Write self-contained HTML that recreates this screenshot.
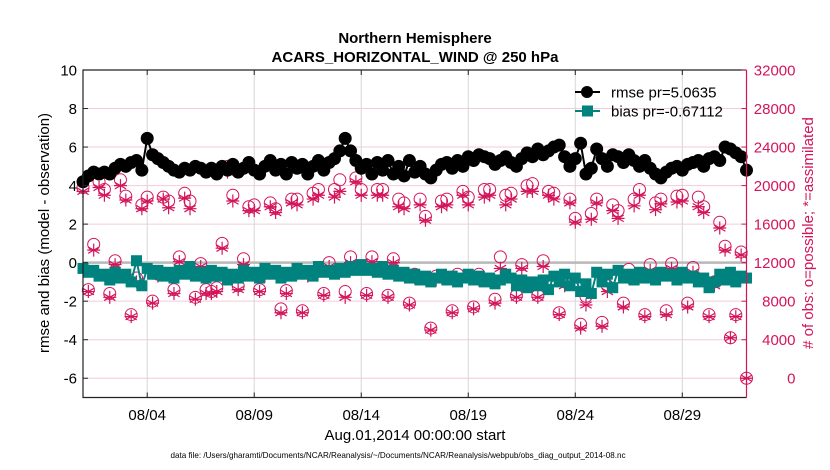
<!DOCTYPE html>
<html><head><meta charset="utf-8"><style>
html,body{margin:0;padding:0;background:#fff;}
svg{display:block;font-family:"Liberation Sans",Arial,sans-serif;}
</style></head><body>
<svg id="chart" width="830" height="470" viewBox="0 0 830 470">
<text x="415" y="43" text-anchor="middle" font-size="15" font-weight="bold">Northern Hemisphere</text>
<text x="415" y="62" text-anchor="middle" font-size="15" font-weight="bold">ACARS_HORIZONTAL_WIND @ 250 hPa</text>
<g id="grid"></g>
<g id="series"></g>
<g id="axes"></g>
<text transform="translate(49,233) rotate(-90)" text-anchor="middle" font-size="15">rmse and bias (model - observation)</text>
<text transform="translate(813,233) rotate(-90)" text-anchor="middle" font-size="15" fill="#d4145a"># of obs: o=possible; *=assimilated</text>
<text x="415" y="440" text-anchor="middle" font-size="15">Aug.01,2014 00:00:00 start</text>
<text x="398" y="458" text-anchor="middle" font-size="8.1">data file: /Users/gharamti/Documents/NCAR/Reanalysis/~/Documents/NCAR/Reanalysis/webpub/obs_diag_output_2014-08.nc</text>
<g>
<line x1="575" y1="92" x2="600" y2="92" stroke="#000" stroke-width="2"/>
<circle cx="587" cy="92" r="6" fill="#000"/>
<text x="611" y="97.5" font-size="15">rmse pr=5.0635</text>
<line x1="575" y1="111" x2="600" y2="111" stroke="#00837f" stroke-width="2"/>
<rect x="582" y="105.5" width="11" height="11" fill="#00837f"/>
<text x="611" y="116.5" font-size="15">bias pr=-0.67112</text>
</g>
</svg>
<script>
const xTickDays=[3,8,13,18,23,28];
const xTickLabels=["08/04","08/09","08/14","08/19","08/24","08/29"];
const leftTicks=[10,8,6,4,2,0,-2,-4,-6];
const rightTicks=[32000,28000,24000,20000,16000,12000,8000,4000,0];
const rmse=[4.2,4.5,4.7,4.6,4.7,4.6,4.9,5.1,5.0,5.2,5.3,4.8,
6.45,5.6,5.4,5.2,5.0,4.8,4.7,4.9,4.8,5.0,4.9,4.7,4.9,4.6,5.0,4.8,5.1,4.7,4.9,5.2,4.8,4.6,5.0,5.3,4.8,5.1,4.6,5.2,4.9,5.1,4.6,5.0,5.3,4.8,5.2,5.4,5.8,6.45,5.8,5.3,4.9,5.1,4.6,5.2,4.8,5.3,4.6,5.0,4.5,5.3,4.7,5.0,4.6,4.4,4.8,5.1,5.2,4.9,5.3,5.0,5.5,5.3,5.6,5.5,5.4,5.1,5.3,5.5,5.2,5.0,5.4,5.7,5.5,5.9,5.6,5.8,6.0,6.1,5.5,5.0,5.4,6.2,4.6,4.9,5.9,5.4,5.0,5.6,5.5,5.2,5.6,5.3,5.0,5.3,4.9,4.6,4.4,4.7,4.9,5.0,4.8,5.1,5.2,5.3,5.0,5.4,5.5,5.3,6.0,5.9,5.7,5.5,4.8];
const bias=[-0.3,-0.5,-0.4,-0.7,-0.6,-0.9,-0.5,-0.8,-0.6,-1.0,0.1,-1.2,
-0.3,-0.6,-0.4,-0.7,-0.5,-0.8,-0.4,-0.6,-0.2,-0.7,-0.5,-0.8,
-0.4,-0.7,-0.5,-0.9,-0.6,-0.8,-0.4,-0.7,-0.5,-0.8,-0.3,-0.6,
-0.4,-0.8,-0.5,-0.7,-0.3,-0.6,-0.4,-0.7,-0.2,-0.5,-0.4,-0.6,
-0.3,-0.5,-0.2,-0.4,-0.1,-0.4,-0.3,-0.5,-0.2,-0.6,-0.4,-0.7,
-0.5,-0.8,-0.6,-0.9,-0.7,-1.0,-0.8,-0.6,-0.9,-0.7,-1.0,-0.8,
-0.6,-0.9,-0.7,-1.0,-0.8,-1.1,-0.9,-0.6,-0.8,-1.2,-0.9,-1.3,
-1.0,-1.2,-0.9,-1.4,-0.7,-1.0,-0.6,-1.2,-0.8,-1.5,-1.1,-1.6,
-0.5,-1.0,-0.6,-1.3,-0.4,-0.8,-0.6,-0.9,-0.5,-0.8,-0.6,-0.9,
-0.5,-0.7,-0.6,-0.9,-0.5,-0.8,-0.7,-1.0,-0.8,-1.3,-1.0,-0.6,
-0.9,-0.5,-1.0,-0.7,-0.8];
const possible=[19800,9200,13900,20400,19600,8800,12200,20600,18900,6600,10400,18000,18800,8000,10800,18800,18400,9200,12600,19200,18400,8400,11900,9200,9000,9400,14000,22000,19000,9600,12400,17800,18000,9200,11200,18200,17600,7200,9100,18600,18600,7000,11000,19200,19600,8800,12000,19600,20600,9000,12600,20800,19600,8800,12600,19600,19600,8600,12400,18600,18200,7800,10800,18600,16800,5200,10600,18400,18600,7000,10800,19400,18800,7400,10800,19600,19600,8200,12600,19000,19200,8600,11800,20000,20200,8600,12200,19400,19200,6800,10000,18600,16600,5600,8500,17100,18600,5800,9600,18000,17400,7800,11300,18600,19600,6600,11800,18200,18600,7000,11900,18900,19000,7800,11500,18800,17800,6600,10000,16200,13700,4200,6600,13100,0];
const assimilated=[19400,9000,13300,19800,19000,8400,11800,20000,18500,6400,10000,17600,18400,7800,10600,18600,17700,8800,12100,18700,17600,8200,11600,8800,8800,9000,13500,21400,18400,9200,11800,17400,17400,9000,10600,17800,17200,6800,8800,18200,18000,6800,10600,18600,19000,8600,11600,18800,19400,8400,12000,20400,19000,8600,12100,19000,19000,8400,12000,17800,17600,7600,10400,18000,16400,5000,10200,17800,18000,6800,10200,19000,18000,7200,10200,18800,19000,7800,11400,18000,18600,8400,11400,19400,19400,8400,11600,19000,18600,6600,9600,18200,16200,5200,7600,16500,18200,5400,9000,17400,16600,7400,10400,17900,19000,6400,11200,17500,18100,6600,11400,18300,18400,7400,11000,17800,17200,6400,9600,15600,13300,4200,6400,12800,0];

const NS="http://www.w3.org/2000/svg";
const X0=83,X1=746.5,Y0=70,Y1=397.5;
const xs=t=>X0+(t-0)/31*(X1-X0);
const yL=v=>Y0+(10-v)/17*(Y1-Y0);
const yR=c=>yL(c/2000-6);
function mk(tag,parent,attrs){const e=document.createElementNS(NS,tag);for(const k in attrs)e.setAttribute(k,attrs[k]);parent.appendChild(e);return e;}
const grid=document.getElementById('grid'),ser=document.getElementById('series'),axes=document.getElementById('axes');
leftTicks.forEach(v=>{const l=mk('line',grid,{x1:X0,x2:X1,y1:yL(v),y2:yL(v),stroke:'#f4cbd9','stroke-width':1});

});
xTickDays.forEach(d=>{const l=mk('line',grid,{x1:xs(d),x2:xs(d),y1:Y0,y2:Y1,stroke:'#d6d6d6','stroke-width':1});

});
const z=mk('line',grid,{x1:X0,x2:X1,y1:yL(0),y2:yL(0),stroke:'#b8b8b8','stroke-width':2.5});


function star(g,cx,cy,r){let d='';for(let k=0;k<3;k++){const a=Math.PI/2+k*Math.PI/3;d+=`M${cx+r*Math.cos(a)},${cy+r*Math.sin(a)}L${cx-r*Math.cos(a)},${cy-r*Math.sin(a)}`;}d+=`M${cx-r},${cy}L${cx+r},${cy}`;return mk('path',g,{d:d,stroke:'#d4145a','stroke-width':1.2,fill:'none'});}
possible.forEach((c,i)=>{const p=mk('circle',ser,{cx:xs(i/4),cy:yR(c),r:6,fill:'none',stroke:'#d4145a','stroke-width':1});

});
assimilated.forEach((c,i)=>{const s=star(ser,xs(i/4),yR(c),6.5);

});
const bl=mk('polyline',ser,{points:bias.map((v,i)=>xs(i/4)+','+yL(v)).join(' '),fill:'none',stroke:'#00837f','stroke-width':2});


bias.forEach((v,i)=>{const r=mk('rect',ser,{x:xs(i/4)-5.5,y:yL(v)-5.5,width:11,height:11,fill:'#00837f'});

});
const rl=mk('polyline',ser,{points:rmse.map((v,i)=>xs(i/4)+','+yL(v)).join(' '),fill:'none',stroke:'#000','stroke-width':2});


rmse.forEach((v,i)=>{const c=mk('circle',ser,{cx:xs(i/4),cy:yL(v),r:6.5,fill:'#000'});

});
mk('path',axes,{d:`M${X1},${Y0}L${X0},${Y0}L${X0},${Y1}L${X1},${Y1}`,fill:'none',stroke:'#222','stroke-width':1.2});
mk('line',axes,{x1:X1,x2:X1,y1:Y0,y2:Y1,stroke:'#d4145a','stroke-width':1.2});
leftTicks.forEach(v=>{mk('line',axes,{x1:X0,x2:X0+5,y1:yL(v),y2:yL(v),stroke:'#222'});
const t=mk('text',axes,{x:X0-6,y:yL(v)+5.5,'text-anchor':'end','font-size':15});t.textContent=v;

});
rightTicks.forEach(c=>{mk('line',axes,{x1:X1-5,x2:X1,y1:yR(c),y2:yR(c),stroke:'#d4145a'});
const t=mk('text',axes,{x:X1+49,y:yR(c)+5.5,'text-anchor':'end','font-size':15,fill:'#d4145a'});t.textContent=c;

});
xTickDays.forEach((d,i)=>{mk('line',axes,{x1:xs(d),x2:xs(d),y1:Y1,y2:Y1-5,stroke:'#222'});mk('line',axes,{x1:xs(d),x2:xs(d),y1:Y0,y2:Y0+5,stroke:'#222'});
const t=mk('text',axes,{x:xs(d),y:420,'text-anchor':'middle','font-size':15});t.textContent=xTickLabels[i];

});
</script>
</body></html>
